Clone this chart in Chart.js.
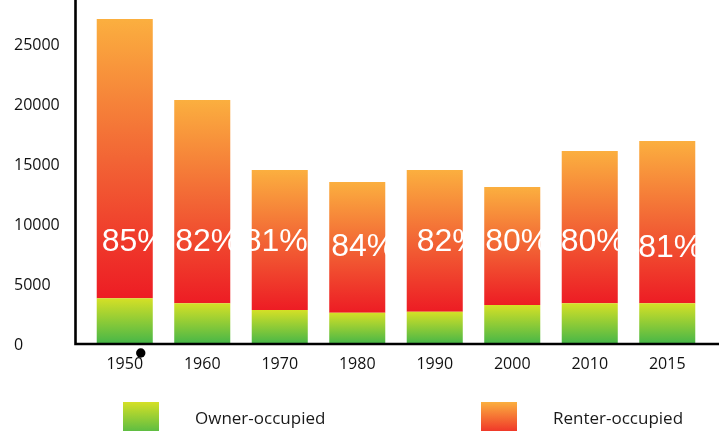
<!DOCTYPE html>
<html>
<head>
<meta charset="utf-8">
<script src="https://cdn.jsdelivr.net/npm/chart.js@4.4.1/dist/chart.umd.min.js"></script>
<style>
  html, body { margin: 0; padding: 0; background: #fff; overflow: hidden; }
  #wrap { position: relative; width: 719px; height: 431px; overflow: hidden; }
  #c { position: absolute; left: 0; top: 0; }
  .key { position: absolute; top: 402px; width: 36px; height: 36px; }
  .lab { position: absolute; top: 406px; font: 17px/23px "Open Sans", sans-serif; color: #1a1a1a; white-space: nowrap; }
</style>
</head>
<body>
<div id="wrap">
  <canvas id="c" width="719" height="431"></canvas>
  <div class="key" style="left:123px;background:linear-gradient(#d5e026,#42b549)"></div>
  <div class="lab" style="left:195px">Owner-occupied</div>
  <div class="key" style="left:481px;background:linear-gradient(#fbaf3f,#ed1c24)"></div>
  <div class="lab" style="left:553px">Renter-occupied</div>
</div>
<script>
// --- data -------------------------------------------------------------------
var years  = ["1950", "1960", "1970", "1980", "1990", "2000", "2010", "2015"];
var owner  = [3890, 3470, 2920, 2690, 2780, 3330, 3470, 3470];
var renter = [23280, 16950, 11660, 10890, 11800, 9840, 12700, 13530];
var shareLabels = ["85%", "82%", "81%", "84%", "82%", "80%", "80%", "81%"];
var yTicks = [0, 5000, 10000, 15000, 20000, 25000];

// small hand nudges for the white percentage labels (px)
var labelDx = [9, 5, -4, 6, 14, 5, 3, 3];
var labelDy = [0, 0, 0, 5, 0, 0, 0, 6];

var totals = owner.map(function (v, i) { return v + renter[i]; });

// --- gradients: one per bar, spanning just that segment ----------------------
var OWNER_STOPS  = [[0, "#d5e026"], [1, "#42b549"]];
var RENTER_STOPS = [[0, "#fbaf3f"], [0.5, "#f26535"], [1, "#ed1c24"]];

function segGradient(stops, low, high) {
  return function (c) {
    var chart = c.chart;
    if (!chart.chartArea || c.type !== "data") return stops[0][1];
    var y = chart.scales.y, i = c.dataIndex;
    var g = chart.ctx.createLinearGradient(0, y.getPixelForValue(high[i]),
      0, y.getPixelForValue(low[i]));
    stops.forEach(function (s) { g.addColorStop(s[0], s[1]); });
    return g;
  };
}
var zeros = years.map(function () { return 0; });

// --- plugins ------------------------------------------------------------------
// heavy black L-shaped axis, offset a little left of the plot area
var axisLines = {
  id: "axisLines",
  afterDraw: function (chart) {
    var a = chart.chartArea, ctx = chart.ctx, x0 = a.left - 10.5;
    ctx.save();
    ctx.strokeStyle = "#000";
    ctx.lineWidth = 2.6;
    ctx.beginPath();
    ctx.moveTo(x0, 0);
    ctx.lineTo(x0, a.bottom - 1);
    ctx.lineTo(chart.width, a.bottom - 1);
    ctx.stroke();
    // stray dot under the first label
    ctx.fillStyle = "#000";
    ctx.beginPath();
    ctx.arc(chart.scales.x.getPixelForValue(0) + 16, a.bottom + 8, 4.7, 0, Math.PI * 2);
    ctx.fill();
    ctx.restore();
  }
};

// white renter-share labels inside the bars
var shareText = {
  id: "shareText",
  afterDatasetsDraw: function (chart) {
    var ctx = chart.ctx, meta = chart.getDatasetMeta(1), y = chart.scales.y;
    ctx.save();
    ctx.fillStyle = "#fff";
    ctx.font = '32px "Liberation Sans", Arial, sans-serif';
    ctx.textAlign = "center";
    ctx.textBaseline = "alphabetic";
    meta.data.forEach(function (bar, i) {
      ctx.fillText(shareLabels[i], bar.x + labelDx[i], y.getPixelForValue(7800) + labelDy[i]);
    });
    ctx.restore();
  }
};

// --- chart --------------------------------------------------------------------
var FONT = { family: '"Open Sans", sans-serif', size: 16 };

function noPad(s) {
  s.paddingTop = 0; s.paddingBottom = 0; s.paddingLeft = 0; s.paddingRight = 0;
}

new Chart(document.getElementById("c").getContext("2d"), {
  type: "bar",
  data: {
    labels: years,
    datasets: [
      { label: "Owner-occupied", data: owner, borderWidth: 0,
        backgroundColor: segGradient(OWNER_STOPS, zeros, owner) },
      { label: "Renter-occupied", data: renter, borderWidth: 0,
        backgroundColor: segGradient(RENTER_STOPS, owner, totals) }
    ]
  },
  options: {
    responsive: false,
    animation: false,
    events: [],
    layout: { padding: { left: 14, right: 13, top: 0, bottom: 0 } },
    datasets: { bar: { categoryPercentage: 1, barPercentage: 0.723 } },
    plugins: { legend: { display: false }, tooltip: { enabled: false } },
    scales: {
      x: {
        stacked: true,
        grid: { display: false, drawTicks: false },
        border: { display: false },
        ticks: { color: "#111", font: FONT, padding: 10, maxRotation: 0 },
        afterFit: function (s) { s.height = 86; noPad(s); }
      },
      y: {
        stacked: true,
        min: 0, max: 28750,
        grid: { display: false, drawTicks: false },
        border: { display: false },
        ticks: { color: "#111", font: FONT, crossAlign: "far", padding: 0,
          callback: function (v) { return String(v); } },
        afterBuildTicks: function (s) {
          s.ticks = yTicks.map(function (v) { return { value: v }; });
        },
        afterFit: function (s) { s.width = 72; noPad(s); }
      }
    }
  },
  plugins: [axisLines, shareText]
});
</script>
</body>
</html>
